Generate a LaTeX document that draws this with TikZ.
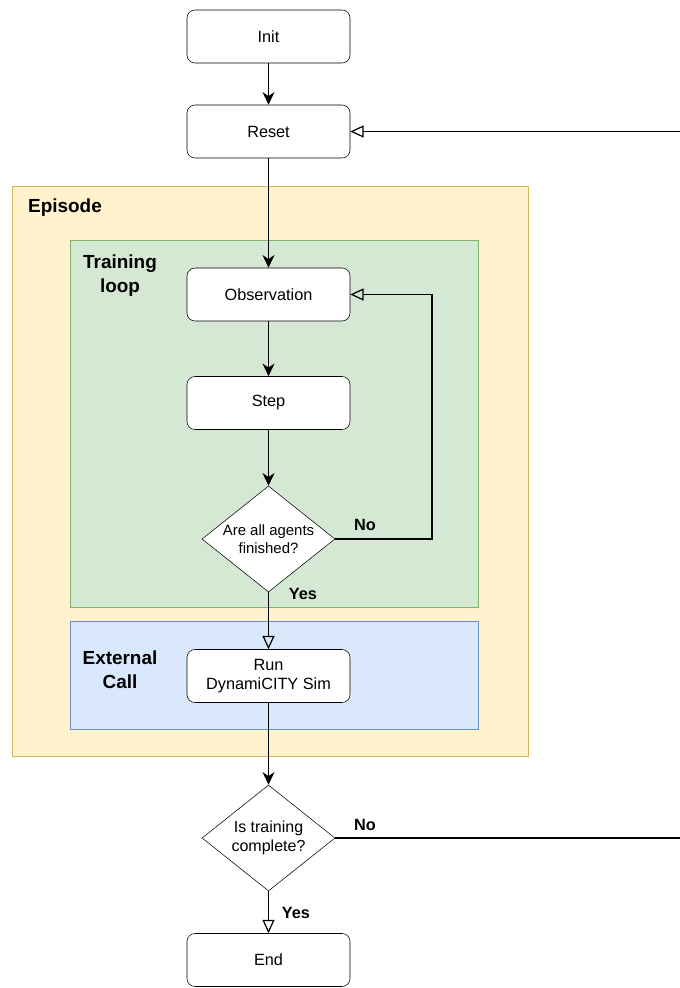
\documentclass[tikz,border=0pt]{standalone}
\usepackage{fontspec}
\setmainfont{Liberation Sans}
\usetikzlibrary{arrows.meta,shapes.geometric}
\definecolor{epfill}{HTML}{FFF2CC}
\definecolor{epdraw}{HTML}{D6B656}
\definecolor{trfill}{HTML}{D5E8D4}
\definecolor{trdraw}{HTML}{82B366}
\definecolor{exfill}{HTML}{DAE8FC}
\definecolor{exdraw}{HTML}{6C8EBF}
\tikzset{
  box/.style={draw=black, fill=white, rounded corners=6pt, minimum width=122.25pt, minimum height=39.75pt, font=\fontsize{12.2}{14.5}\selectfont, align=center, inner sep=0pt},
  decision/.style={draw=black, fill=white, diamond, aspect=1.255, minimum width=99.75pt, minimum height=79.5pt, inner sep=0pt, align=center},
  grouplabel/.style={font=\bfseries\fontsize{14.2}{18}\selectfont, align=center},
  edgelabel/.style={font=\bfseries\fontsize{12.2}{14}\selectfont},
  filledarrow/.style={draw=black, line width=0.9pt, -{Stealth[length=9.5pt,width=9pt,inset=3pt]}},
  openarrow/.style={draw=black, line width=0.9pt, -{Triangle[open,length=10pt,width=9pt]}},
  plainline/.style={draw=black, line width=0.9pt}
}
\begin{document}
\begin{tikzpicture}[x=0.75pt,y=-0.75pt]
\useasboundingbox (0,0) rectangle (680,988);
\clip (0,0) rectangle (680,988);
% groups
\draw[draw=epdraw, fill=epfill] (12,186) rectangle (528,756);
\node[grouplabel] (eplabel) at (65,208) {Episode};
\draw[draw=trdraw, fill=trfill] (70,240) rectangle (478,607);
\node[grouplabel] (trlabel) at (120,276) {Training\\loop};
\draw[draw=exdraw, fill=exfill] (70,621) rectangle (478,729);
\node[grouplabel] (exlabel) at (120,670) {External\\Call};
% nodes
\node[box] (init) at (268.5,36.5) {Init};
\node[box] (reset) at (268.5,131.5) {Reset};
\node[box] (obs) at (268.5,294.5) {Observation};
\node[box] (step) at (268.5,403) {Step};
\node[decision, font=\fontsize{11.2}{14}\selectfont] (dec1) at (268.5,539) {Are all agents\\finished?};
\node[box] (run) at (268.5,676) {Run\\DynamiCITY Sim};
\node[decision, font=\fontsize{12}{14}\selectfont] (dec2) at (268.5,838) {Is training\\complete?};
\node[box] (end) at (268.5,960) {End};
\coordinate (loop1) at (432,539);
\coordinate (loop2) at (432,294.5);
\coordinate (far1) at (700,838);
\coordinate (far2) at (700,131.5);
% edges
\draw[filledarrow] (init) -- (reset);
\draw[filledarrow] (reset) -- (obs);
\draw[filledarrow] (obs) -- (step);
\draw[filledarrow] (step) -- (dec1);
\draw[openarrow] (dec1.east) -- (loop1) -- (loop2) -- (obs.east);
\draw[openarrow] (dec1.south) -- (run.north);
\draw[filledarrow] (run) -- (dec2);
\draw[openarrow] (dec2.south) -- (end.north);
\draw[openarrow] (dec2.east) -- (far1) -- (far2) -- (reset.east);
% labels
\node[edgelabel] (no1) at (365,525) {No};
\node[edgelabel] (yes1) at (303,594) {Yes};
\node[edgelabel] (no2) at (365,825) {No};
\node[edgelabel] (yes2) at (296,913) {Yes};
\end{tikzpicture}
\end{document}
